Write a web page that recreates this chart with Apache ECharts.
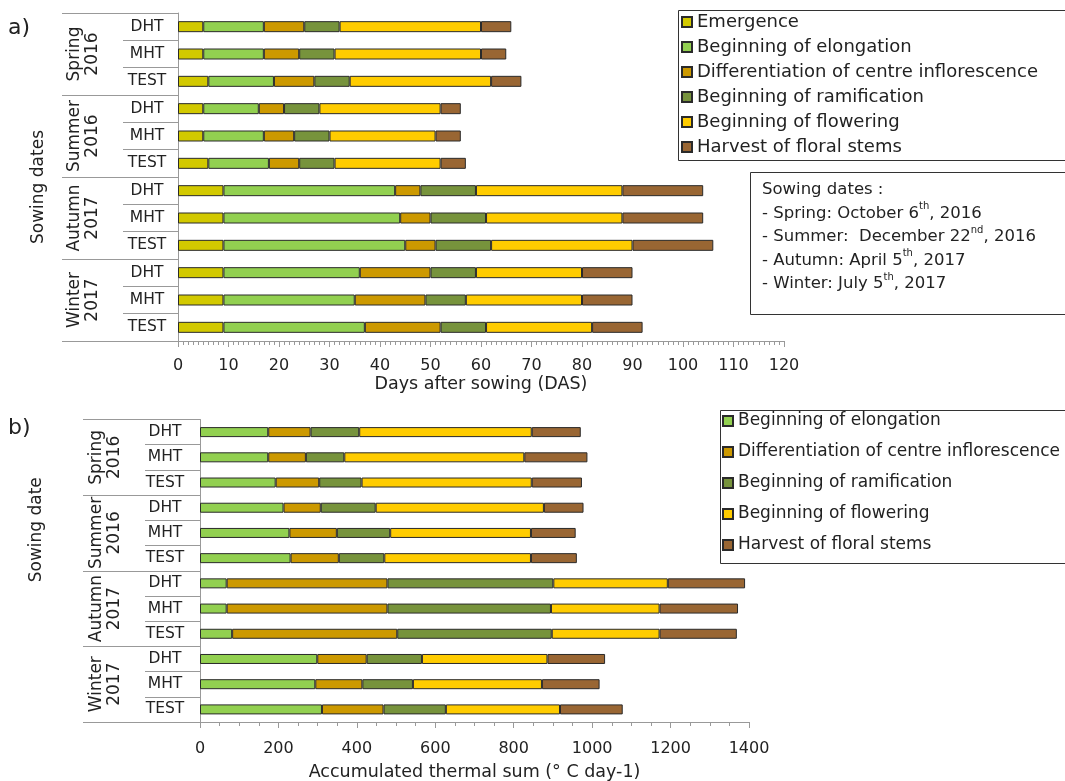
<!DOCTYPE html>
<html>
<head>
<meta charset="utf-8">
<script src="https://cdn.jsdelivr.net/npm/echarts@6/dist/echarts.min.js"></script>
<style>html,body{margin:0;padding:0;background:#fff}#c{width:1065px;height:781px}</style>
</head>
<body>
<div id="c"></div>
<script>
// ---- DATA ----
const seasons = ['Spring\n2016', 'Summer\n2016', 'Autumn\n2017', 'Winter\n2017'];
const treatments = ['DHT', 'MHT', 'TEST'];
// Panel a: duration of each phase (days), rows: Spring DHT, MHT, TEST, Summer..., Autumn..., Winter...
const stagesA = ['Emergence', 'Beginning of elongation', 'Differentiation of centre inflorescence', 'Beginning of ramification', 'Beginning of flowering', 'Harvest of floral stems'];
const emergenceA    = [5, 5, 6, 5, 5, 6, 9, 9, 9, 9, 9, 9];
const elongationA   = [12, 12, 13, 11, 12, 12, 34, 35, 36, 27, 26, 28];
const differentA    = [8, 7, 8, 5, 6, 6, 5, 6, 6, 14, 14, 15];
const ramificationA = [7, 7, 7, 7, 7, 7, 11, 11, 11, 9, 8, 9];
const floweringA    = [28, 29, 28, 24, 21, 21, 29, 27, 28, 21, 23, 21];
const harvestA      = [6, 5, 6, 4, 5, 5, 16, 16, 16, 10, 10, 10];
// Panel b: thermal sum of each phase (°C day)
const stagesB = ['Beginning of elongation', 'Differentiation of centre inflorescence', 'Beginning of ramification', 'Beginning of flowering', 'Harvest of floral stems'];
const elongationB   = [174, 174, 193, 213, 228, 231, 68, 68, 82, 299, 294, 311];
const differentB    = [108, 96, 111, 95, 121, 123, 410, 410, 421, 126, 120, 157];
const ramificationB = [124, 98, 108, 140, 136, 116, 423, 417, 394, 141, 129, 159];
const floweringB    = [440, 459, 434, 429, 359, 374, 292, 277, 275, 320, 329, 291];
const harvestB      = [125, 161, 128, 101, 114, 117, 197, 200, 197, 147, 147, 160];
const ticksA = {min: 0, max: 120, interval: 10};
const ticksB = {min: 0, max: 1400, interval: 200};

// ---- STYLE ----
const FONT = 'DejaVu Sans';
const colors = {
  'Emergence': '#d2c900',
  'Beginning of elongation': '#92d050',
  'Differentiation of centre inflorescence': '#cc9900',
  'Beginning of ramification': '#77933c',
  'Beginning of flowering': '#ffcc00',
  'Harvest of floral stems': '#996633'
};
const rows = [];
seasons.forEach(s => treatments.forEach(t => rows.push(s.replace('\n', ' ') + '|' + t)));

function yAxes(gridIndex, subTick, seasonTick, subMargin, seasonMargin, name, nameGap, namePad) {
  return [
    {
      type: 'category', gridIndex, data: rows, inverse: true,
      axisLine: {show: true, lineStyle: {color: '#999', width: 1}},
      axisTick: {show: true, interval: 0, length: subTick, lineStyle: {color: '#999'}},
      axisLabel: {interval: 0, formatter: v => v.split('|')[1], fontFamily: FONT, fontSize: 15.5, color: '#222', align: 'center', margin: subMargin},
      splitLine: {show: false}
    },
    {
      type: 'category', gridIndex, data: seasons, inverse: true, position: 'left',
      axisLine: {show: false},
      axisTick: {show: true, interval: 0, length: seasonTick, lineStyle: {color: '#999'}},
      axisLabel: {interval: 0, rotate: 90, align: 'center', verticalAlign: 'middle', margin: seasonMargin, fontFamily: FONT, fontSize: 17, lineHeight: 18, color: '#222'},
      name, nameLocation: 'middle', nameRotate: 90, nameGap,
      nameTextStyle: {fontFamily: FONT, fontSize: 17, color: '#222', padding: namePad},
      splitLine: {show: false}
    }
  ];
}

function xAxis(gridIndex, t, minorSplit, name, nameGap, labelMargin, nameSize) {
  return {
    type: 'value', gridIndex, min: t.min, max: t.max, interval: t.interval,
    axisLine: {show: true, lineStyle: {color: '#999'}},
    axisTick: {show: true, length: 6, lineStyle: {color: '#999'}},
    minorTick: {show: true, splitNumber: minorSplit, length: 4, lineStyle: {color: '#999'}},
    splitLine: {show: false},
    axisLabel: {fontFamily: FONT, fontSize: 16, color: '#222', margin: labelMargin, formatter: v => String(v)},
    name, nameLocation: 'middle', nameGap,
    nameTextStyle: {fontFamily: FONT, fontSize: nameSize, color: '#222'}
  };
}

function bar(name, data, xi, yi, stack, bw) {
  return {
    type: 'bar', name, data, xAxisIndex: xi, yAxisIndex: yi, stack, barWidth: bw,
    itemStyle: {color: colors[name], borderColor: '#2a2a2a', borderWidth: 1},
    emphasis: {disabled: true}, animation: false
  };
}

const seriesA = [emergenceA, elongationA, differentA, ramificationA, floweringA, harvestA].map((d, i) => bar(stagesA[i], d, 0, 0, 'a', 11));
const seriesB = [elongationB, differentB, ramificationB, floweringB, harvestB].map((d, i) => bar(stagesB[i], d, 1, 2, 'b', 10));

const option = {
  animation: false,
  grid: [
    {left: 178, top: 13, width: 606, height: 328, outerBoundsMode: 'none', containLabel: false},
    {left: 200, top: 419.5, width: 549, height: 302.5, outerBoundsMode: 'none', containLabel: false}
  ],
  xAxis: [
    xAxis(0, ticksA, 10, 'Days after sowing (DAS)', 34, 17, 17.5),
    xAxis(1, ticksB, 4, 'Accumulated thermal sum (° C day-1)', 41, 19, 17.5)
  ],
  yAxis: [
    ...yAxes(0, 55, 116, 31, 94.5, 'Sowing dates', 131, [0, 20, 0, 0]),
    ...yAxes(1, 55, 117, 35, 94, 'Sowing date', 155, [0, 0, 0, 82])
  ],
  legend: [
    {data: stagesA, orient: 'vertical', left: 681, top: 12, padding: 0, itemWidth: 10, itemHeight: 10, itemGap: 5, icon: 'rect',
     textStyle: {fontFamily: FONT, fontSize: 18, color: '#222', lineHeight: 20}, selectedMode: false},
    {data: stagesB, orient: 'vertical', left: 722, top: 411, padding: 0, itemWidth: 10, itemHeight: 10, itemGap: 11, icon: 'rect',
     textStyle: {fontFamily: FONT, fontSize: 17, color: '#222', lineHeight: 20}, selectedMode: false}
  ],
  graphic: [
    {type: 'rect', left: 676, top: 8, shape: {width: 387, height: 150}, style: {fill: 'none', stroke: '#333', lineWidth: 1}},
    {type: 'rect', left: 718, top: 408, shape: {width: 345, height: 153}, style: {fill: 'none', stroke: '#333', lineWidth: 1}},
    {type: 'rect', left: 748, top: 170, shape: {width: 315, height: 142}, style: {fill: 'none', stroke: '#333', lineWidth: 1}},
    {type: 'text', left: 8, top: 17, style: {text: 'a)', fontFamily: FONT, fontSize: 22, fill: '#222'}},
    {type: 'text', left: 8, top: 417, style: {text: 'b)', fontFamily: FONT, fontSize: 22, fill: '#222'}},
    {type: 'text', left: 762, top: 178, style: {
      text: 'Sowing dates :\n- Spring: October 6{s|th}, 2016\n- Summer:  December 22{s|nd}, 2016\n- Autumn: April 5{s|th}, 2017\n- Winter: July 5{s|th}, 2017',
      fontFamily: FONT, fontSize: 16.5, fill: '#222', lineHeight: 23.5,
      rich: {s: {fontFamily: FONT, fontSize: 10, fill: '#222', verticalAlign: 'top', lineHeight: 23.5}}
    }}
  ],
  series: [...seriesA, ...seriesB]
};

const chart = echarts.init(document.getElementById('c'), null, {renderer: 'canvas'});
chart.setOption(option);
</script>
</body>
</html>
